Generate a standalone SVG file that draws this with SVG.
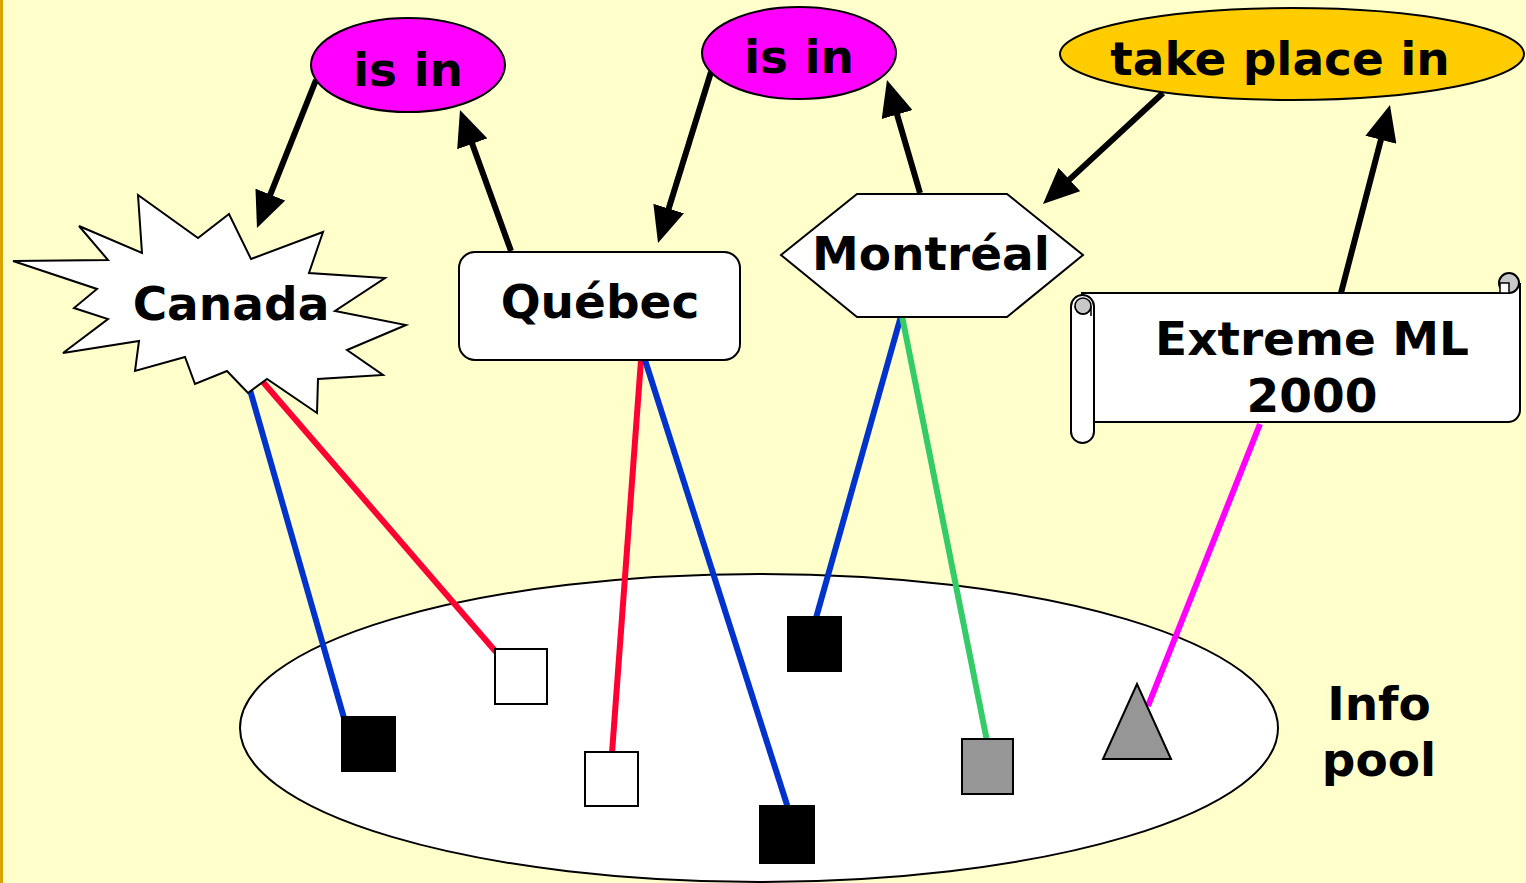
<svg xmlns="http://www.w3.org/2000/svg" width="1526" height="883" viewBox="0 0 1526 883">
<style>
.lbl{font-family:"DejaVu Sans","Verdana",sans-serif;font-weight:bold;font-size:47px;fill:#000;text-anchor:middle}
.shape{stroke:#000;stroke-width:2;stroke-linejoin:miter}
.arrow{stroke:#000;stroke-width:6;fill:none;marker-end:url(#ah)}
.link{stroke-width:6;fill:none}
.sq{stroke:#000;stroke-width:2}
</style>
<defs>
<marker id="ah" markerUnits="userSpaceOnUse" markerWidth="36" markerHeight="32" viewBox="0 0 36 32" refX="6" refY="16" orient="auto">
<path d="M0,0 L36,16 L0,32 z" fill="#000"/>
</marker>
</defs>
<rect x="0" y="0" width="1526" height="883" fill="#FFFFCC"/>
<rect x="0" y="0" width="3" height="883" fill="#D9A400"/>

<g id="info-pool">
<ellipse cx="759" cy="728" rx="519" ry="154" fill="#FFFFFF" stroke="#000" stroke-width="2"/>
<text class="lbl" x="1379" y="720">Info</text>
<text class="lbl" x="1379" y="776">pool</text>
</g>

<g id="connectors">
<line class="link" stroke="#0033CC" x1="250" y1="390" x2="344" y2="718"/>
<line class="link" stroke="#FF0033" x1="263" y1="382" x2="496" y2="652"/>
<line class="link" stroke="#FF0033" x1="641" y1="360" x2="612" y2="753"/>
<line class="link" stroke="#0033CC" x1="645" y1="360" x2="788" y2="808"/>
<line class="link" stroke="#0033CC" x1="901" y1="316" x2="816" y2="618"/>
<line class="link" stroke="#33CC66" x1="902" y1="316" x2="987" y2="741"/>
<line class="link" stroke="#FF00FF" x1="1260" y1="424" x2="1148" y2="706"/>
<line class="arrow" x1="316" y1="80" x2="268.1" y2="200.1"/>
<line class="arrow" x1="511" y1="251" x2="470.2" y2="138.2"/>
<line class="arrow" x1="711" y1="72" x2="666.9" y2="214.3"/>
<line class="arrow" x1="920" y1="193" x2="895.4" y2="108.8"/>
<line class="arrow" x1="1163" y1="93" x2="1065" y2="183.6"/>
<line class="arrow" x1="1341" y1="293" x2="1382.4" y2="134"/>
</g>

<g id="pool-items">
<rect class="sq" x="342" y="717" width="53" height="54" fill="#000"/>
<rect class="sq" x="495" y="649" width="52" height="55" fill="#FFF"/>
<rect class="sq" x="585" y="752" width="53" height="54" fill="#FFF"/>
<rect class="sq" x="788" y="617" width="53" height="54" fill="#000"/>
<rect class="sq" x="760" y="806" width="54" height="57" fill="#000"/>
<rect class="sq" x="962" y="739" width="51" height="55" fill="#969696"/>
<polygon class="sq" points="1137,684 1171,759 1103,759" fill="#969696"/>
</g>

<g id="is-in-1">
<ellipse class="shape" cx="408" cy="65" rx="97" ry="47" fill="#FF00FF"/>
<text class="lbl" x="408" y="86">is in</text>
</g>

<g id="is-in-2">
<ellipse class="shape" cx="799" cy="53" rx="97" ry="46" fill="#FF00FF"/>
<text class="lbl" x="799" y="73">is in</text>
</g>

<g id="take-place-in">
<ellipse class="shape" cx="1292" cy="54" rx="232" ry="46" fill="#FFCC00"/>
<text class="lbl" x="1280" y="75">take place in</text>
</g>

<g id="canada">
<polygon class="shape" fill="#FFF" points="13,261 108,260 79,226 142,253 138,195 198,238 229,214 251,259 323,232 309,273 385,278 335,311 406,325 347,350 383,375 318,379 317,413 267,379 248,393 227,371 195,384 185,357 135,371 139,341 63,353 108,319 74,308 97,289"/>
<text class="lbl" x="231" y="320">Canada</text>
</g>

<g id="quebec">
<rect class="shape" x="459" y="252" width="281" height="108" rx="16" fill="#FFF"/>
<text class="lbl" x="600" y="318">Québec</text>
</g>

<g id="montreal">
<polygon class="shape" fill="#FFF" points="781,255 857,194 1007,194 1083,255 1007,317 857,317"/>
<text class="lbl" x="931" y="270">Montréal</text>
</g>

<g id="extreme-ml">
<path class="shape" fill="#FFF" d="M1082,293 L1509,293 L1509,284 L1520,284 L1520,410 A12,12 0 0 1 1508,422 L1094,422 Z"/>
<circle cx="1509" cy="283" r="10" fill="#C8C8C8" stroke="#000" stroke-width="2"/>
<rect x="1500" y="283" width="9" height="10" fill="#FFF" stroke="#000" stroke-width="1.5"/>
<rect class="shape" x="1071" y="295" width="23" height="148" rx="11.5" fill="#FFF"/>
<circle cx="1083" cy="306" r="8" fill="#C8C8C8" stroke="#000" stroke-width="1.5"/>
<path d="M1075,306 A8,8 0 0 0 1091,306 L1091,316" fill="none" stroke="#000" stroke-width="1.5"/>
<text class="lbl" x="1312" y="355">Extreme ML</text>
<text class="lbl" x="1312" y="412">2000</text>
</g>
</svg>
